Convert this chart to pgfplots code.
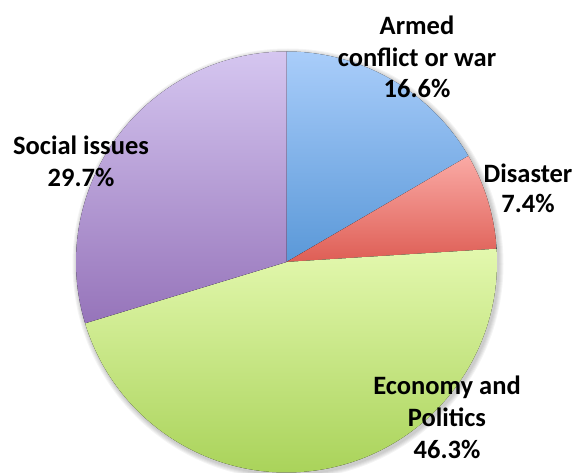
\documentclass[border=0pt]{standalone}
\usepackage{pgfplots}
\pgfplotsset{compat=1.18}
\usepackage{fontspec}
\setmainfont{Carlito}
\definecolor{armedA}{HTML}{A9CDFA}
\definecolor{armedB}{HTML}{5A98D8}
\definecolor{disA}{HTML}{FAAAA5}
\definecolor{disB}{HTML}{DE5E55}
\definecolor{ecoA}{HTML}{E3F8AE}
\definecolor{ecoB}{HTML}{A8D258}
\definecolor{socA}{HTML}{D5C6F0}
\definecolor{socB}{HTML}{9674BA}
% wedge: #1 cumulative percent before slice, #2 slice percent, #3 top colour, #4 bottom colour
\newcommand\pieslice[4]{%
  \fill[top color=#3,bottom color=#4] (axis cs:286.5,211) -- ++({90-3.6*(#1)}:210.5bp)
    arc[start angle={90-3.6*(#1)}, end angle={90-3.6*((#1)+(#2))}, radius=210.5bp] -- cycle;}
\begin{document}
\begin{tikzpicture}
\begin{axis}[hide axis, scale only axis, width=576bp, height=473bp,
  xmin=0, xmax=576, ymin=0, ymax=473, clip=false]
\coordinate (LL) at (rel axis cs:0,0);
\coordinate (UR) at (rel axis cs:1,1);
% soft shadow
\pgfplotsinvokeforeach{1,2,3,4,5}{
  \fill[black, opacity=0.045] (axis cs:288,209) circle[radius=210.5bp+#1bp];
}
\pieslice{0}{16.6}{armedA}{armedB}
\pieslice{16.6}{7.4}{disA}{disB}
\pieslice{24.0}{46.3}{ecoA}{ecoB}
\pieslice{70.3}{29.7}{socA}{socB}
\tikzset{lbl/.style={anchor=base, font=\fontsize{26.6}{30}\selectfont\bfseries, inner sep=0pt}}
\node[lbl] at (axis cs:417,438) {Armed};
\node[lbl] at (axis cs:417,406) {conflict or war};
\node[lbl] at (axis cs:417,375) {16.6\%};
\node[lbl] at (axis cs:528,290) {Disaster};
\node[lbl] at (axis cs:528,260) {7.4\%};
\node[lbl] at (axis cs:81,318) {Social issues};
\node[lbl] at (axis cs:81,286) {29.7\%};
\node[lbl] at (axis cs:447,78) {Economy and};
\node[lbl] at (axis cs:447,46) {Politics};
\node[lbl] at (axis cs:447,15) {46.3\%};
\end{axis}
\pgfresetboundingbox
\path[use as bounding box] (LL) rectangle (UR);
\end{tikzpicture}
\end{document}
